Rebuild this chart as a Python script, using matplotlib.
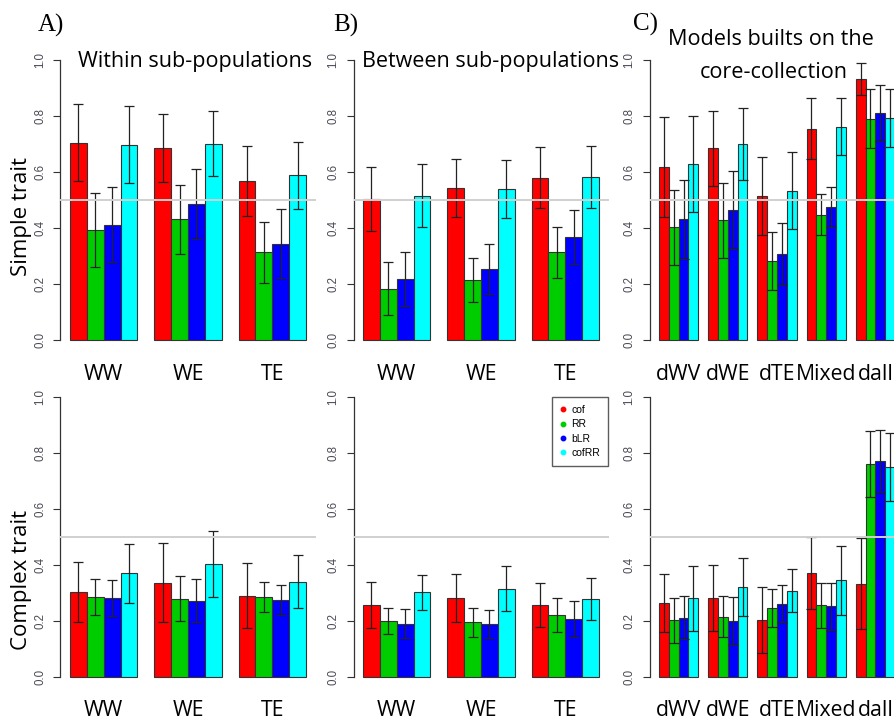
import numpy as np
import matplotlib
matplotlib.use('Agg')
import matplotlib.pyplot as plt
from matplotlib.lines import Line2D
from matplotlib.transforms import blended_transform_factory

# ---------------- data ----------------
series = ['cof', 'RR', 'bLR', 'cofRR']
series_colors = ['#ff0000', '#00cd00', '#0000ff', '#00ffff']
sub_groups = ['WW', 'WE', 'TE']
core_groups = ['dWV', 'dWE', 'dTE', 'Mixed', 'dall']
y_ticks = [0.0, 0.2, 0.4, 0.6, 0.8, 1.0]

# rows = series (cof, RR, bLR, cofRR), columns = groups
simple_within = [[0.705, 0.686, 0.568], [0.393, 0.431, 0.313],
                 [0.412, 0.485, 0.344], [0.698, 0.701, 0.588]]
simple_within_err = [[0.138, 0.122, 0.124], [0.133, 0.124, 0.109],
                     [0.135, 0.125, 0.124], [0.138, 0.116, 0.119]]

simple_between = [[0.504, 0.542, 0.580], [0.183, 0.214, 0.313],
                  [0.219, 0.254, 0.368], [0.515, 0.538, 0.583]]
simple_between_err = [[0.115, 0.104, 0.110], [0.095, 0.080, 0.092],
                      [0.096, 0.088, 0.098], [0.113, 0.104, 0.110]]

simple_core = [[0.617, 0.685, 0.514, 0.754, 0.932],
               [0.402, 0.427, 0.282, 0.448, 0.790],
               [0.431, 0.464, 0.307, 0.476, 0.810],
               [0.629, 0.700, 0.533, 0.762, 0.793]]
simple_core_err = [[0.178, 0.134, 0.138, 0.109, 0.058],
                   [0.135, 0.135, 0.103, 0.072, 0.105],
                   [0.141, 0.140, 0.110, 0.071, 0.100],
                   [0.171, 0.128, 0.137, 0.103, 0.104]]

complex_within = [[0.301, 0.336, 0.290], [0.286, 0.279, 0.286],
                  [0.282, 0.271, 0.275], [0.369, 0.401, 0.340]]
complex_within_err = [[0.107, 0.140, 0.117], [0.064, 0.080, 0.054],
                      [0.064, 0.077, 0.053], [0.105, 0.118, 0.096]]

complex_between = [[0.256, 0.282, 0.256], [0.199, 0.194, 0.221],
                   [0.190, 0.190, 0.206], [0.301, 0.315, 0.276]]
complex_between_err = [[0.081, 0.085, 0.077], [0.048, 0.052, 0.060],
                       [0.052, 0.050, 0.064], [0.061, 0.080, 0.075]]

complex_core = [[0.263, 0.280, 0.202, 0.371, 0.332],
                [0.201, 0.214, 0.244, 0.255, 0.761],
                [0.211, 0.199, 0.260, 0.251, 0.770],
                [0.280, 0.321, 0.307, 0.345, 0.748]]
complex_core_err = [[0.103, 0.118, 0.117, 0.128, 0.162],
                    [0.079, 0.073, 0.068, 0.080, 0.118],
                    [0.077, 0.086, 0.066, 0.084, 0.112],
                    [0.115, 0.104, 0.077, 0.123, 0.122]]

# ---------------- layout ----------------
W, H = 894, 721
fig = plt.figure(figsize=(W / 100, H / 100), dpi=100)
fig.patch.set_facecolor('white')

TITLE_FONT = ['Open Sans', 'DejaVu Sans']
TICK_FONT = ['Liberation Sans', 'DejaVu Sans']
SERIF_FONT = ['Liberation Serif', 'DejaVu Serif']


def px_axes(left, top, width, height):
    return fig.add_axes([left / W, 1 - (top + height) / H, width / W, height / H])


def draw_panel(ax, groups, means, errs):
    means = np.asarray(means)
    errs = np.asarray(errs)
    n = len(groups)
    total = 5 * n
    for j, (name, col) in enumerate(zip(series, series_colors)):
        x = 1 + 5 * np.arange(n) + j + 0.5
        ax.bar(x, means[j], width=1.0, color=col, edgecolor='#333333',
               linewidth=0.8, zorder=2)
        ax.errorbar(x, means[j], yerr=errs[j], fmt='none', ecolor='#222222',
                    elinewidth=0.9, capsize=3.4, capthick=0.9, zorder=3)
    span = total - 1
    ax.set_xlim(1 - 0.04 * span, total + 0.04 * span)
    ax.set_ylim(-0.04, 1.04)
    ax.axhline(0.5, color='#d0d0d0', lw=1.4, zorder=4)
    for s in ['top', 'right', 'bottom']:
        ax.spines[s].set_visible(False)
    ax.spines['left'].set_bounds(0, 1)
    ax.spines['left'].set_color('#333333')
    ax.spines['left'].set_linewidth(0.9)
    ax.set_xticks([])
    ax.set_yticks(y_ticks)
    ax.set_yticklabels(['%.1f' % t for t in y_ticks], rotation=90,
                       va='center', fontsize=8.3, family=TICK_FONT,
                       color='#4a4a55')
    ax.tick_params(axis='y', length=5, width=0.8, color='#333333', pad=5)
    ax.set_facecolor('none')
    return 1 + 5 * np.arange(n) + 2.0


def group_labels(ax, centers, labels, y_px):
    tr = blended_transform_factory(ax.transData, fig.transFigure)
    for c, lab in zip(centers, labels):
        ax.text(c, 1 - y_px / H, lab, transform=tr, ha='center', va='center',
                fontsize=15.3, family=TITLE_FONT, color='black', clip_on=False)


PW = 255
PH = 302.4
lefts = [60.5, 353.5, 649.5]
tops = [48.8, 385.5]

panels = [
    (0, 0, sub_groups, simple_within, simple_within_err),
    (0, 1, sub_groups, simple_between, simple_between_err),
    (0, 2, core_groups, simple_core, simple_core_err),
    (1, 0, sub_groups, complex_within, complex_within_err),
    (1, 1, sub_groups, complex_between, complex_between_err),
    (1, 2, core_groups, complex_core, complex_core_err),
]
axes = {}
for r, c, groups, m, e in panels:
    ax = px_axes(lefts[c], tops[r], PW, PH)
    centers = draw_panel(ax, groups, m, e)
    axes[(r, c)] = ax
    group_labels(ax, centers, groups, 374 if r == 0 else 711)

# legend in middle bottom panel
axl = axes[(1, 1)]
handles = [Line2D([], [], marker='o', ls='none', color=col, markersize=3.2)
           for col in series_colors]
anchor = axl.transAxes.inverted().transform(fig.transFigure.transform((608 / W, 1 - 397 / H)))
leg = axl.legend(handles, series, loc='upper right', bbox_to_anchor=tuple(anchor),
                 prop={'family': TICK_FONT, 'size': 7.5}, frameon=True,
                 fancybox=False, borderpad=0.75, labelspacing=0.42,
                 handlelength=0.6, handletextpad=0.5, borderaxespad=0)
leg.get_frame().set_edgecolor('#333333')
leg.get_frame().set_linewidth(1.0)
leg.set_zorder(10)

# titles and panel letters
def ftext(x_px, y_px, s, **kw):
    fig.text(x_px / W, 1 - y_px / H, s, **kw)

ftext(38, 31.7, 'A)', fontsize=18, family=SERIF_FONT, va='baseline', ha='left')
ftext(333, 32, 'B)', fontsize=18, family=SERIF_FONT, va='baseline', ha='left')
ftext(633, 30.5, 'C)', fontsize=18, family=SERIF_FONT, va='baseline', ha='left')

ftext(78, 67.5, 'Within sub-populations', fontsize=15.5, family=TITLE_FONT,
      va='baseline', ha='left')
ftext(362, 67.5, 'Between sub-populations', fontsize=15.5, family=TITLE_FONT,
      va='baseline', ha='left')
ftext(770.5, 45, 'Models builts on the', fontsize=15.6, family=TITLE_FONT,
      va='baseline', ha='center')
ftext(774, 78.5, 'core-collection', fontsize=15.6, family=TITLE_FONT,
      va='baseline', ha='center')

ftext(22, 217, 'Simple trait', fontsize=16, family=TITLE_FONT, rotation=90,
      va='center', ha='center')
ftext(22, 580, 'Complex trait', fontsize=16, family=TITLE_FONT, rotation=90,
      va='center', ha='center')

fig.savefig('out.png', dpi=100, facecolor='white')
